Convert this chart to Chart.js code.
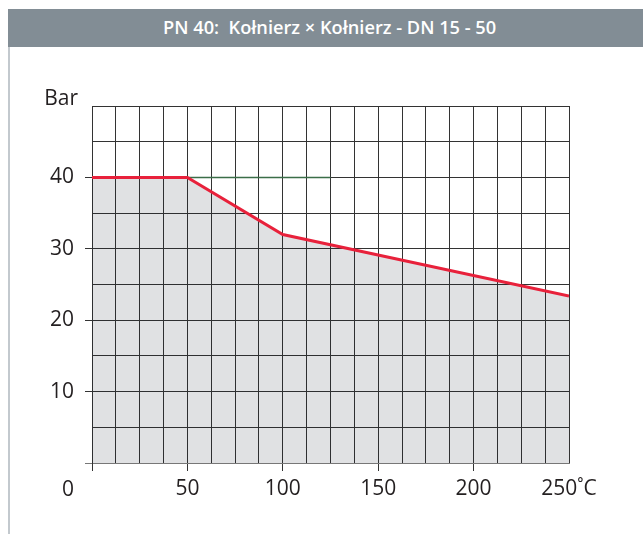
<!DOCTYPE html>
<html lang="pl">
<head>
<meta charset="UTF-8">
<title>PN 40</title>
<script src="https://cdn.jsdelivr.net/npm/chart.js"></script>
<style>
    html, body { margin: 0; padding: 0; background: #fff; }
    #page { position: relative; width: 643px; height: 534px; overflow: hidden; }
    #header {
        position: absolute; left: 8px; top: 9px; width: 635px; height: 37.5px;
        background: #828d95; color: #fff; text-align: center;
        font-family: 'Open Sans', sans-serif; font-weight: 600; font-size: 18px;
        line-height: 37.5px; box-sizing: border-box; padding-left: 8px; white-space: nowrap;
    }
    #header span { display: inline-block; transform-origin: center; }
    #sideLine { position: absolute; left: 8px; top: 46px; width: 1.5px; height: 488px; background: #c3c9ce; }
    #chartBox { position: absolute; left: 0; top: 0; width: 643px; height: 534px; }
</style>
</head>
<body>
<div id="page">
    <div id="chartBox"><canvas id="chart" width="643" height="534"></canvas></div>
    <div id="sideLine"></div>
    <div id="header"><span id="title">PN 40:&nbsp; Kołnierz × Kołnierz - DN 15 - 50</span></div>
</div>

<script>
    // data
    const temps = [0, 50, 100, 250];          // °C
    const pressures = [40, 40, 32, 23.4];     // bar
    const refTemps = [50, 125];               // short green line at 40 bar
    const refPressures = [40, 40];

    const xTickValues = [0, 50, 100, 150, 200, 250];
    const xTickLabels = ['0', '50', '100', '150', '200', '250˚C'];
    const yTickValues = [10, 20, 30, 40];
    const yTickLabels = ['10', '20', '30', '40'];
    const yUnit = 'Bar';

    const labelFont = { family: 'Open Sans', size: 21 };
    const labelColor = '#231f20';
    const gridColor = '#333';

    // squeeze title to the width of the original (condensed font)
    const title = document.getElementById('title');
    const mctx = document.createElement('canvas').getContext('2d');
    mctx.font = '600 18px "Open Sans"';
    const w = mctx.measureText(title.textContent).width;
    title.style.transform = 'scaleX(' + (333 / w).toFixed(3) + ')';

    // "0" at the corner and the "Bar" unit above the axis
    const cornerLabels = {
        id: 'cornerLabels',
        afterDraw(chart) {
            const ctx = chart.ctx;
            const xs = chart.scales.x, ys = chart.scales.y;
            ctx.save();
            ctx.font = labelFont.size + 'px ' + labelFont.family;
            ctx.fillStyle = labelColor;
            ctx.textAlign = 'right';
            ctx.textBaseline = 'middle';
            ctx.fillText(xTickLabels[0], ys.right - 18, xs.top + 27);
            ctx.textBaseline = 'alphabetic';
            ctx.fillText(yUnit, ys.right - 14, ys.getPixelForValue(50) - 1);
            ctx.restore();
        }
    };

    new Chart(document.getElementById('chart'), {
        type: 'line',
        data: {
            datasets: [{
                data: temps.map((t, i) => ({ x: t, y: pressures[i] })),
                borderColor: '#e8213b',
                borderWidth: 3,
                backgroundColor: 'rgba(17, 24, 40, 0.13)',
                fill: 'origin',
                pointRadius: 0,
                tension: 0,
                order: 1
            }, {
                data: refTemps.map((t, i) => ({ x: t, y: refPressures[i] })),
                borderColor: '#3b6e48',
                borderWidth: 1.5,
                fill: false,
                pointRadius: 0,
                order: 2
            }]
        },
        options: {
            responsive: false,
            animation: false,
            layout: { padding: { left: 0, top: 106, right: 74, bottom: 0 } },
            plugins: { legend: { display: false }, tooltip: { enabled: false } },
            scales: {
                x: {
                    type: 'linear', min: 0, max: 250,
                    afterBuildTicks: s => { s.ticks = Array.from({ length: 21 }, (_, i) => ({ value: i * 12.5 })); },
                    afterFit: s => { s.height = 71; },
                    ticks: {
                        autoSkip: false, maxRotation: 0, padding: 5,
                        font: labelFont, color: labelColor,
                        callback: v => { const i = xTickValues.indexOf(v); return i > 0 ? xTickLabels[i] : ''; }
                    },
                    grid: {
                        color: gridColor, lineWidth: 1, tickLength: 8,
                        tickColor: c => (c.tick && c.tick.value % 50 === 0 && c.tick.value < 250) ? gridColor : 'rgba(0,0,0,0)'
                    },
                    border: { display: true, color: '#777' }
                },
                y: {
                    min: 0, max: 50,
                    afterBuildTicks: s => { s.ticks = Array.from({ length: 11 }, (_, i) => ({ value: i * 5 })); },
                    afterFit: s => { s.width = 92; },
                    ticks: {
                        padding: 11, font: labelFont, color: labelColor,
                        callback: v => { const i = yTickValues.indexOf(v); return i >= 0 ? yTickLabels[i] : ''; }
                    },
                    grid: {
                        color: c => (c.tick && c.tick.value === 0) ? '#777' : gridColor,
                        lineWidth: 1, tickLength: 7,
                        tickColor: c => {
                            if (!c.tick) return 'rgba(0,0,0,0)';
                            if (c.tick.value === 0) return '#777';
                            return (c.tick.value % 10 === 0 && c.tick.value < 50) ? gridColor : 'rgba(0,0,0,0)';
                        }
                    },
                    border: { display: true, color: gridColor }
                }
            }
        },
        plugins: [cornerLabels]
    });
</script>
</body>
</html>
